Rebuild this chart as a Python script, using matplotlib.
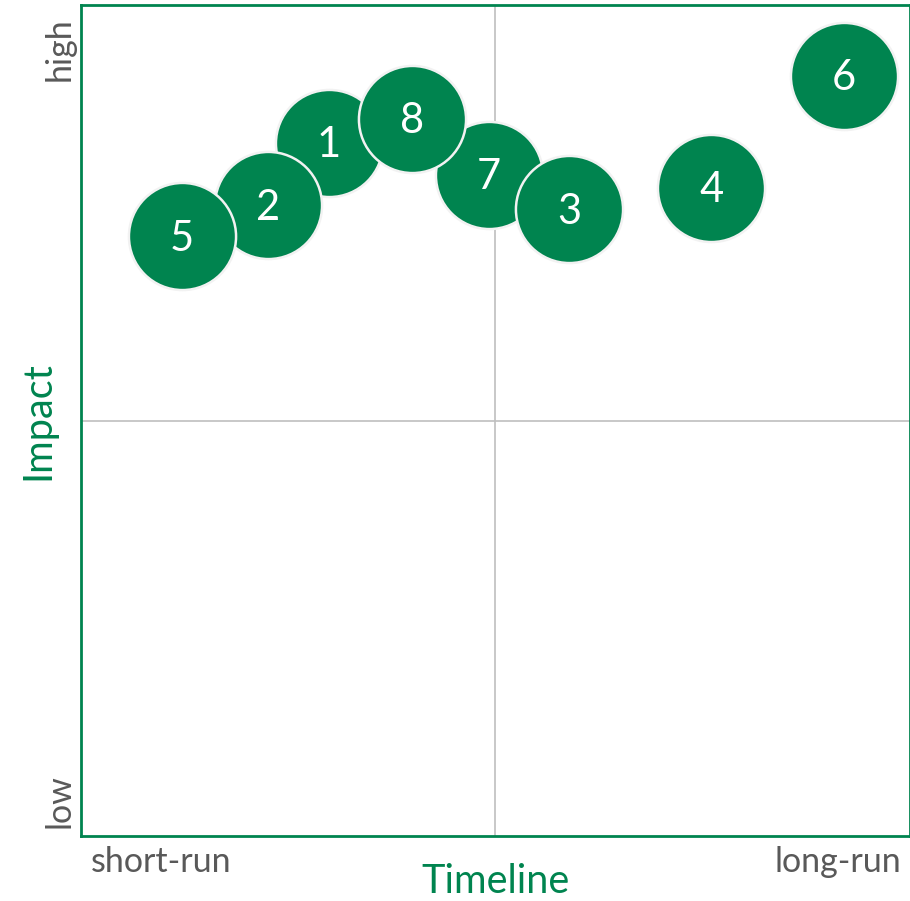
import matplotlib
matplotlib.use("Agg")
from matplotlib import pyplot as plt

# bubble positions on a 0-10 timeline / impact grid
labels = ["1", "2", "3", "4", "5", "6", "7", "8"]
timeline = [2.99, 2.26, 5.89, 7.60, 1.22, 9.20, 4.92, 3.99]
impact = [8.34, 7.59, 7.54, 7.80, 7.22, 9.15, 7.96, 8.63]
draw_order = ["7", "1", "2", "5", "8", "3", "4", "6"]

GREEN = "#00844F"
GREY = "#595959"

plt.rcParams["font.family"] = ["Lato", "DejaVu Sans"]

fig = plt.figure(figsize=(9.10, 9.01), dpi=100)
ax = fig.add_axes([0.089, 0.0721, 0.911, 0.9223])
ax.set_xlim(0, 10)
ax.set_ylim(0, 10)

# quadrant lines
ax.axvline(5, color="#BFBFBF", lw=1.2, zorder=0)
ax.axhline(5, color="#BFBFBF", lw=1.2, zorder=0)

for z, lab in enumerate(draw_order):
    i = labels.index(lab)
    ax.scatter(timeline[i], impact[i], s=5950, color=GREEN,
               edgecolor="#F2F2F2", linewidth=1.8, zorder=2 + z, clip_on=False)
    ax.text(timeline[i], impact[i] - 0.03, lab, color="white", fontsize=30,
            ha="center", va="center", zorder=2 + z)

for side in ax.spines.values():
    side.set_color(GREEN)
    side.set_linewidth(2)
ax.set_xticks([])
ax.set_yticks([])

ax.text(0.012, -0.012, "short-run", transform=ax.transAxes, ha="left",
        va="top", fontsize=24.5, color=GREY)
ax.text(0.99, -0.012, "long-run", transform=ax.transAxes, ha="right",
        va="top", fontsize=24.5, color=GREY)
ax.text(-0.007, 0.985, "high", transform=ax.transAxes, ha="right",
        va="top", rotation=90, fontsize=24.5, color=GREY)
ax.text(-0.007, 0.01, "low", transform=ax.transAxes, ha="right",
        va="bottom", rotation=90, fontsize=24.5, color=GREY)
ax.text(0.5, -0.033, "Timeline", transform=ax.transAxes, ha="center",
        va="top", fontsize=28.5, color=GREEN)
ax.text(-0.03, 0.5, "Impact", transform=ax.transAxes, ha="right",
        va="center", rotation=90, fontsize=28.5, color=GREEN)

fig.savefig("out.png", dpi=100)
